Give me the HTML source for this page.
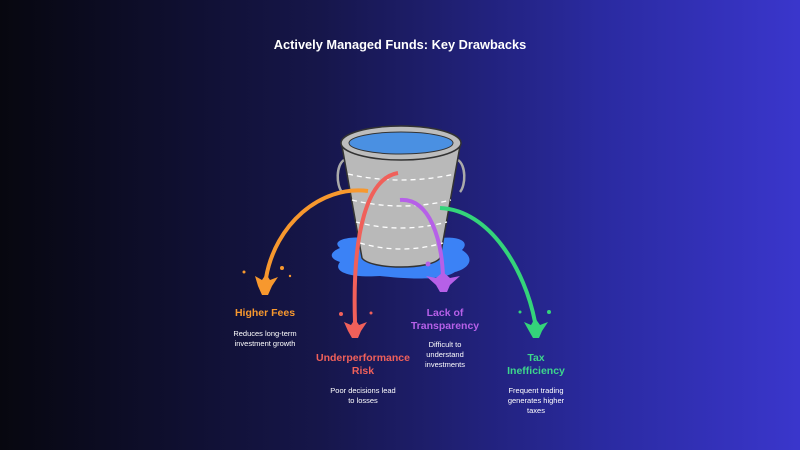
<!DOCTYPE html>
<html><head><style>
html,body{margin:0;padding:0;width:800px;height:450px;overflow:hidden;}
body{background:linear-gradient(90deg,#07070f 0%,#16164a 40%,#2a2aa0 75%,#3a36cc 100%);}
svg{display:block;font-family:"Liberation Sans",sans-serif;}
</style></head><body>
<svg width="800" height="450" viewBox="0 0 800 450">
<text x="400" y="49" text-anchor="middle" fill="#fff" font-size="12.8" font-weight="bold">Actively Managed Funds: Key Drawbacks</text>
<path d="M340 248 C330 240 350 236 365 238 L440 238 C460 236 470 242 462 250 C475 258 470 268 455 272 C440 282 400 278 380 276 C350 278 332 272 340 262 C328 258 330 252 340 248Z" fill="#3b82f6"/>
<path d="M344 160 C336 165 336 185 342 192" stroke="#aaa" stroke-width="2.5" fill="none"/>
<path d="M458 160 C466 165 466 185 460 192" stroke="#aaa" stroke-width="2.5" fill="none"/>
<path d="M342 146 L362 258 C370 270 432 270 440 258 L460 146Z" fill="#b9b9b9" stroke="#333" stroke-width="1.5"/>
<g stroke="#fff" stroke-width="1.3" stroke-dasharray="5 4" fill="none">
<path d="M348 174 Q401 186 455 174"/>
<path d="M352 200 Q401 212 451 200"/>
<path d="M356 222 Q401 234 447 222"/>
<path d="M360 243 Q401 255 443 243"/>
</g>
<ellipse cx="401" cy="143" rx="60" ry="17" fill="#bdbdbd" stroke="#333" stroke-width="1.5"/>
<ellipse cx="401" cy="143" rx="52" ry="11" fill="#4a90e2" stroke="#333" stroke-width="1"/>
<path d="M368 191 C320 185 275 225 266 278" stroke="#f7982e" stroke-width="4" fill="none"/>
<path d="M398 173 C368 178 352 230 355 322" stroke="#f0605a" stroke-width="4" fill="none"/>
<path d="M400 200 C430 198 442 240 443 278" stroke="#b660e8" stroke-width="4" fill="none"/>
<path d="M440 208 C490 210 525 270 535 322" stroke="#34d47a" stroke-width="4" fill="none"/>
<g fill="#f7982e"><path d="M255 276 L262 280 L266 274 L270 280 L278 277 L272 286 L268 295 L262 295 L258 286Z"/><circle cx="244" cy="272" r="1.5"/><circle cx="282" cy="268" r="2"/><circle cx="290" cy="276" r="1.2"/></g>
<g fill="#f0605a"><path d="M344 322 L351 325 L355 319 L359 325 L367 322 L361 331 L358 338 L352 338 L348 331Z"/><circle cx="341" cy="314" r="2"/><circle cx="371" cy="313" r="1.5"/></g>
<g fill="#b660e8"><path d="M426 276 L436 278 L443 272 L450 278 L460 276 L450 285 L447 292 L440 292 L436 285Z"/><circle cx="428" cy="264" r="2.5"/></g>
<g fill="#34d47a"><path d="M524 322 L531 325 L535 318 L540 325 L548 322 L542 331 L539 338 L533 338 L529 331Z"/><circle cx="520" cy="312" r="1.5"/><circle cx="549" cy="312" r="2"/></g>
<g font-weight="bold" font-size="10.5" text-anchor="middle">
<text x="265" y="316" fill="#f7982e">Higher Fees</text>
<text x="363" y="361" fill="#f0605a">Underperformance</text>
<text x="363" y="374" fill="#f0605a">Risk</text>
<text x="445" y="316" fill="#b660e8">Lack of</text>
<text x="445" y="329" fill="#b660e8">Transparency</text>
<text x="536" y="361" fill="#3dd68c">Tax</text>
<text x="536" y="374" fill="#3dd68c">Inefficiency</text>
</g>
<g font-size="7.5" fill="#fff" text-anchor="middle">
<text x="265" y="336">Reduces long-term</text>
<text x="265" y="346">investment growth</text>
<text x="363" y="393">Poor decisions lead</text>
<text x="363" y="403">to losses</text>
<text x="445" y="347">Difficult to</text>
<text x="445" y="357">understand</text>
<text x="445" y="367">investments</text>
<text x="536" y="393">Frequent trading</text>
<text x="536" y="403">generates higher</text>
<text x="536" y="413">taxes</text>
</g>
</svg>
</body></html>
